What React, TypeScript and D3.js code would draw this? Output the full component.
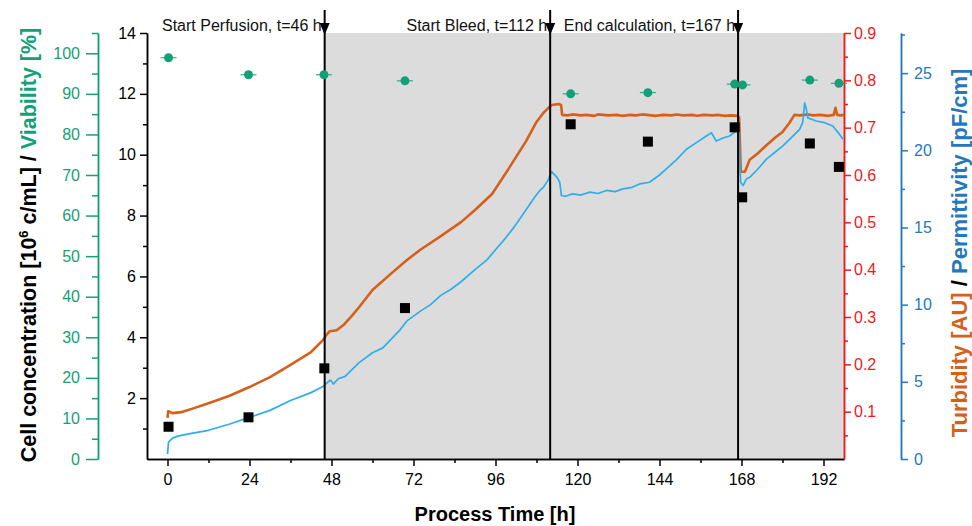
import React, { useEffect, useRef } from 'react';
import * as d3 from 'd3';

// ---- data ----
const timeTicks = [0, 24, 48, 72, 96, 120, 144, 168, 192];
const timeMinor = [12, 36, 60, 84, 108, 132, 156, 180];
const cellTicks = [2, 4, 6, 8, 10, 12, 14];
const cellMinor = [1, 3, 5, 7, 9, 11, 13];
const viabTicks = [0, 10, 20, 30, 40, 50, 60, 70, 80, 90, 100];
const viabMinor = [5, 15, 25, 35, 45, 55, 65, 75, 85, 95, 105];
const turbTicks = [0.1, 0.2, 0.3, 0.4, 0.5, 0.6, 0.7, 0.8, 0.9];
const turbMinor = [0.05, 0.15, 0.25, 0.35, 0.45, 0.55, 0.65, 0.75, 0.85];
const permTicks = [0, 5, 10, 15, 20, 25];
const permMinor = [2.5, 7.5, 12.5, 17.5, 22.5, 27.5];

const eventTimes = [46, 112, 167];
const eventLabels = ['Start Perfusion, t=46 h', 'Start Bleed, t=112 h', 'End calculation, t=167 h'];

const cellTimes = [0.3, 23.7, 45.9, 69.5, 118, 140.6, 166, 168.2, 188, 196.5];
const cellConc = [1.06, 1.37, 2.98, 4.96, 11.0, 10.43, 10.9, 8.6, 10.37, 9.6];

const viabTimes = [0.3, 23.7, 45.8, 69.5, 118, 140.6, 166, 168.3, 188, 196.5];
const viability = [98.9, 94.7, 94.7, 93.2, 90.0, 90.3, 92.4, 92.2, 93.4, 92.6];

const turbTime = [
  0, 0.2, 1.5, 4, 8, 12, 18, 24, 30, 36, 42, 45.5, 46.5, 47.5, 49.5, 51.5, 54, 56, 60, 65, 70,
  74, 80, 86, 90, 95, 100, 105, 108, 110, 111.5, 112.5, 114.5, 115.2, 115.5,
  117, 118.5, 121, 122.5, 125, 126, 129, 131.5, 133, 135.5, 137, 139, 141.5, 143, 145, 147.5,
  149, 151, 153.5, 155, 157, 159.5, 161, 163, 165, 166.8, 167.3, 167.8, 169, 170.4, 172.8,
  175.3, 177.7, 180, 182, 183.5, 185, 187.5, 189, 191, 193.5, 195, 195.5, 196, 197, 198,
];
const turbidity = [
  0.087, 0.101, 0.097, 0.099, 0.108, 0.118, 0.133, 0.152, 0.173, 0.199, 0.226, 0.251, 0.262,
  0.27, 0.272, 0.283, 0.303, 0.32, 0.357, 0.389, 0.42, 0.442, 0.471, 0.501, 0.526, 0.56, 0.615,
  0.672, 0.712, 0.731, 0.742, 0.748, 0.75, 0.748, 0.727,
  0.726, 0.728, 0.726, 0.727, 0.725, 0.728, 0.726, 0.727, 0.725, 0.727, 0.726, 0.728, 0.726,
  0.725, 0.727, 0.726, 0.728, 0.726, 0.727, 0.725, 0.727, 0.726, 0.727, 0.725, 0.726, 0.725,
  0.722, 0.607, 0.607, 0.632, 0.646, 0.663, 0.678, 0.691, 0.71, 0.727, 0.726, 0.728, 0.726,
  0.727, 0.725, 0.727, 0.742, 0.727, 0.726, 0.727,
];

const permTime = [
  0, 0.3, 1.5, 3, 7, 12, 18, 24, 30, 36, 42, 45.5, 47.5, 48, 48.5, 50, 52, 56, 60, 63, 65, 68,
  70, 74, 77, 80, 83, 86, 90, 93.5, 96, 99, 101.5, 104.5, 107.5, 109, 110, 111.5, 112.4, 114,
  114.8, 115.3, 116.5, 118.6, 121, 123.6, 126, 128.5, 131, 133.3, 136, 138.2, 141.1, 144, 146,
  149, 151.9, 154.8, 157.7, 159.2, 160.6, 162.6, 164.5, 166.5, 167.2, 167.75, 168.5, 169.4,
  170.4, 172.8, 175.3, 177.7, 180.1, 182.6, 185, 185.9, 186.5, 187, 187.4, 189.9, 192.3,
  194.7, 196.7, 197.7,
];
const permittivity = [
  0.32, 1.09, 1.35, 1.48, 1.66, 1.86, 2.25, 2.7, 3.15, 3.79, 4.3, 4.69, 5.1, 5.05, 4.85, 5.2,
  5.35, 6.23, 6.88, 7.2, 7.65, 8.35, 8.93, 9.58, 10.0, 10.6, 11.0, 11.5, 12.27, 12.9, 13.56,
  14.33, 15.04, 16.0, 16.97, 17.4, 17.6, 18.1, 18.62, 18.25, 17.93, 17.07, 17.02, 17.18, 17.1,
  17.29, 17.2, 17.4, 17.32, 17.5, 17.6, 17.82, 17.93, 18.4, 18.8, 19.4, 20.07, 20.5, 20.93,
  21.14, 20.6, 20.8, 20.93, 21.25, 21.46, 17.93, 17.72, 18.14, 18.25, 18.79, 19.43, 19.86,
  20.29, 20.82, 21.36, 21.79, 23.07, 22.64, 22.1, 21.9, 21.79, 21.57, 21.03, 20.71,
];

const FONT = '"Liberation Sans", Arial, sans-serif';
const GREEN = '#14a077';
const RED = '#f01a1a';
const BLUE = '#2478bb';
const ORANGE = '#d4601c';
const LIGHTBLUE = '#2eaeea';

export default function App() {
  const ref = useRef<SVGSVGElement>(null);

  useEffect(() => {
    const svg = d3.select(ref.current);
    svg.selectAll('*').remove();

    const left = 147, right = 844, top = 33, bottom = 459;
    const x = d3.scaleLinear().domain([-6, 198]).range([left, right]);
    const yCell = d3.scaleLinear().domain([0, 14]).range([bottom, top]);
    const yVia = d3.scaleLinear().domain([0, 105]).range([bottom, top]);
    const yTurb = d3.scaleLinear().domain([0, 0.9]).range([bottom, top]);
    const yPerm = d3.scaleLinear().domain([0, 27.6]).range([bottom, top]);

    // shaded region
    svg.append('rect')
      .attr('x', x(46)).attr('y', top)
      .attr('width', right - x(46)).attr('height', bottom - top)
      .attr('fill', '#dcdcdc');

    const styleAxis = (g: any, color: string) => {
      g.selectAll('path').attr('stroke', color).attr('stroke-width', 1.5);
      g.selectAll('line').attr('stroke', color).attr('stroke-width', 1.5);
      g.selectAll('text').attr('fill', color).attr('font-size', 16).attr('font-family', FONT);
    };

    // bottom axis
    const gx = svg.append('g').attr('transform', `translate(0,${bottom})`);
    gx.call(d3.axisBottom(x).tickValues(timeTicks).tickSize(7).tickSizeOuter(0).tickPadding(8).tickFormat(d3.format('d')) as any);
    styleAxis(gx, '#000');
    const gxm = svg.append('g').attr('transform', `translate(0,${bottom})`);
    gxm.call(d3.axisBottom(x).tickValues(timeMinor).tickSize(4).tickSizeOuter(0).tickFormat(() => '') as any);
    styleAxis(gxm, '#000');

    // left cell axis
    const gl = svg.append('g').attr('transform', `translate(${left},0)`);
    gl.call(d3.axisLeft(yCell).tickValues(cellTicks).tickSize(7).tickSizeOuter(0).tickPadding(4) as any);
    styleAxis(gl, '#000');
    const glm = svg.append('g').attr('transform', `translate(${left},0)`);
    glm.call(d3.axisLeft(yCell).tickValues(cellMinor).tickSize(4).tickSizeOuter(0).tickFormat(() => '') as any);
    styleAxis(glm, '#000');

    // green viability axis
    const gv = svg.append('g').attr('transform', `translate(98,0)`);
    gv.call(d3.axisLeft(yVia).tickValues(viabTicks).tickSize(12).tickSizeOuter(0).tickPadding(6) as any);
    styleAxis(gv, GREEN);
    const gvm = svg.append('g').attr('transform', `translate(98,0)`);
    gvm.call(d3.axisLeft(yVia).tickValues(viabMinor).tickSize(6).tickSizeOuter(0).tickFormat(() => '') as any);
    styleAxis(gvm, GREEN);

    // red turbidity axis
    const gr = svg.append('g').attr('transform', `translate(${right},0)`);
    gr.call(d3.axisRight(yTurb).tickValues(turbTicks).tickSize(7).tickSizeOuter(0).tickPadding(3).tickFormat(d3.format('.1f')) as any);
    styleAxis(gr, RED);
    const grm = svg.append('g').attr('transform', `translate(${right},0)`);
    grm.call(d3.axisRight(yTurb).tickValues(turbMinor).tickSize(4).tickSizeOuter(0).tickFormat(() => '') as any);
    styleAxis(grm, RED);

    // blue permittivity axis
    const gp = svg.append('g').attr('transform', `translate(901,0)`);
    gp.call(d3.axisRight(yPerm).tickValues(permTicks).tickSize(7).tickSizeOuter(0).tickPadding(6) as any);
    styleAxis(gp, BLUE);
    const gpm = svg.append('g').attr('transform', `translate(901,0)`);
    gpm.call(d3.axisRight(yPerm).tickValues(permMinor).tickSize(4).tickSizeOuter(0).tickFormat(() => '') as any);
    styleAxis(gpm, BLUE);

    // data lines
    const turbData = turbTime.map((t, i) => [t, turbidity[i]] as [number, number]);
    const permData = permTime.map((t, i) => [t, permittivity[i]] as [number, number]);

    svg.append('path')
      .attr('d', d3.line<[number, number]>().x(d => x(d[0])).y(d => yTurb(d[1]))(turbData) || '')
      .attr('fill', 'none').attr('stroke', ORANGE).attr('stroke-width', 2.6).attr('stroke-linejoin', 'round');
    svg.append('path')
      .attr('d', d3.line<[number, number]>().x(d => x(d[0])).y(d => yPerm(d[1]))(permData) || '')
      .attr('fill', 'none').attr('stroke', LIGHTBLUE).attr('stroke-width', 1.7).attr('stroke-linejoin', 'round');

    // event lines
    eventTimes.forEach((t, i) => {
      const ex = x(t);
      svg.append('line').attr('x1', ex).attr('x2', ex).attr('y1', 10).attr('y2', bottom)
        .attr('stroke', '#000').attr('stroke-width', 2);
      svg.append('path').attr('d', `M${ex - 5},23 L${ex + 5},23 L${ex},35 Z`).attr('fill', '#000');
      svg.append('text').attr('x', ex - 3).attr('y', 31).attr('text-anchor', 'end')
        .attr('font-size', 16).attr('font-family', FONT).attr('fill', '#111').text(eventLabels[i]);
    });

    // cell concentration squares
    svg.selectAll('rect.cell').data(cellTimes).enter().append('rect')
      .attr('class', 'cell')
      .attr('x', (t: number) => x(t) - 5).attr('y', (_: number, i: number) => yCell(cellConc[i]) - 5)
      .attr('width', 10).attr('height', 10).attr('fill', '#000');

    // viability points with small horizontal bars
    viabTimes.forEach((t, i) => {
      const cx = x(t), cy = yVia(viability[i]);
      svg.append('line').attr('x1', cx - 8).attr('x2', cx + 8).attr('y1', cy).attr('y2', cy)
        .attr('stroke', GREEN).attr('stroke-width', 1);
      svg.append('circle').attr('cx', cx).attr('cy', cy).attr('r', 4.5).attr('fill', GREEN);
    });

    // axis titles
    const lt = svg.append('text')
      .attr('transform', `translate(36,245) rotate(-90)`)
      .attr('text-anchor', 'middle').attr('font-size', 21.5).attr('font-weight', 'bold')
      .attr('font-family', FONT);
    lt.append('tspan').attr('fill', '#000').text('Cell concentration [10');
    lt.append('tspan').attr('fill', '#000').attr('font-size', 13).attr('dy', -8).text('6');
    lt.append('tspan').attr('fill', '#000').attr('dy', 8).text(' c/mL] / ');
    lt.append('tspan').attr('fill', GREEN).text('Viability [%]');

    const rt = svg.append('text')
      .attr('transform', `translate(967,253) rotate(-90)`)
      .attr('text-anchor', 'middle').attr('font-size', 22).attr('font-weight', 'bold')
      .attr('font-family', FONT);
    rt.append('tspan').attr('fill', ORANGE).text('Turbidity [AU]');
    rt.append('tspan').attr('fill', '#000').text(' / ');
    rt.append('tspan').attr('fill', BLUE).text('Permittivity [pF/cm]');

    svg.append('text').attr('x', 495).attr('y', 521).attr('text-anchor', 'middle')
      .attr('font-size', 20).attr('font-weight', 'bold').attr('font-family', FONT)
      .attr('fill', '#000').text('Process Time [h]');
  }, []);

  return (
    <svg
      ref={ref}
      width={972}
      height={526}
      style={{ position: 'absolute', left: 0, top: 0, background: '#fff' }}
    />
  );
}
